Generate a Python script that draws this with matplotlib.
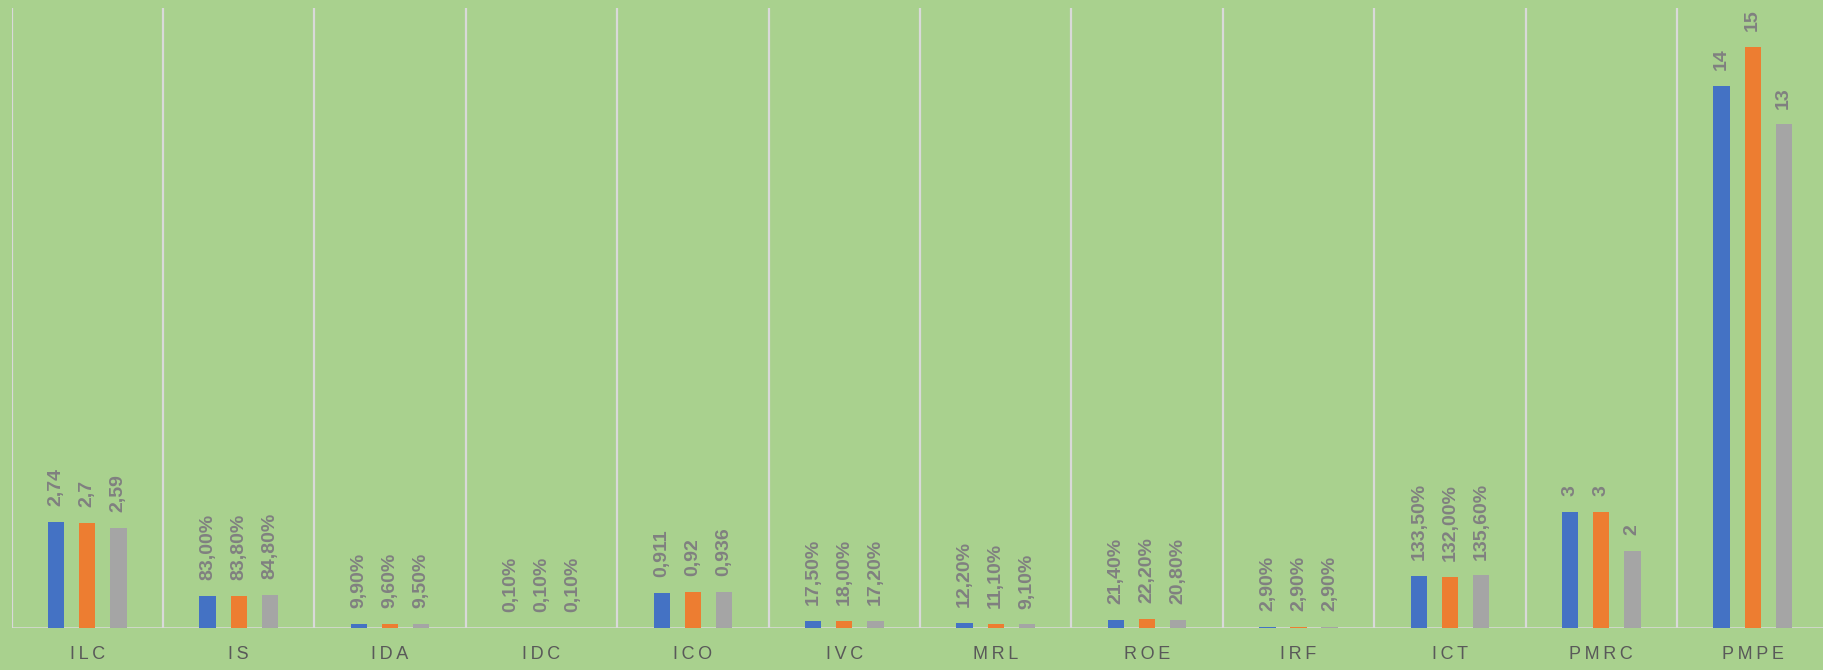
import matplotlib
matplotlib.use("Agg")
import matplotlib.pyplot as plt
import numpy as np

categories = ["ILC", "IS", "IDA", "IDC", "ICO", "IVC", "MRL", "ROE", "IRF", "ICT", "PMRC", "PMPE"]
# "pct" values are shown as percentages, "num" as plain numbers
formats = ["num", "pct", "pct", "pct", "num", "pct", "pct", "pct", "pct", "pct", "num", "num"]
serie_1 = [2.74, 0.830, 0.099, 0.001, 0.911, 0.175, 0.122, 0.214, 0.029, 1.335, 3, 14]
serie_2 = [2.70, 0.838, 0.096, 0.001, 0.920, 0.180, 0.111, 0.222, 0.029, 1.320, 3, 15]
serie_3 = [2.59, 0.848, 0.095, 0.001, 0.936, 0.172, 0.091, 0.208, 0.029, 1.356, 2, 13]

colors = ["#4472C4", "#ED7D31", "#A5A5A5"]
bg = "#A9D18E"
grid_c = "#D9D9D9"


def fmt(v, kind):
    if kind == "pct":
        return f"{v * 100:.2f}%".replace(".", ",")
    return f"{v:g}".replace(".", ",")


fig = plt.figure(figsize=(18.24, 6.70), dpi=100)
fig.patch.set_facecolor(bg)
ax = fig.add_axes([11.6 / 1824, 1 - 628 / 670, 1816.8 / 1824, 619.7 / 670])
ax.set_facecolor(bg)

x = np.arange(len(categories))
width = 0.108
step = 0.205
for i, (vals, c) in enumerate(zip([serie_1, serie_2, serie_3], colors)):
    pos = x + (i - 1) * step
    ax.bar(pos, vals, width=width, color=c, zorder=3)
    for px, v, k in zip(pos, vals, formats):
        ax.annotate(fmt(v, k), (px, v), xytext=(0, 11.5), textcoords="offset points",
                    rotation=90, ha="center", va="bottom", fontsize=14,
                    fontweight="bold", color="#808080", family="Liberation Sans", zorder=4)

for k in range(len(categories) + 1):
    ax.axvline(k - 0.5, color=grid_c, linewidth=1.6, zorder=1)
ax.axhline(0, color=grid_c, linewidth=1.8, zorder=2)

ax.set_xlim(-0.5, len(categories) - 0.5)
ax.set_ylim(0, 16)
ax.set_yticks([])
ax.set_xticks(x)
# letter-spaced category names
ax.set_xticklabels(["\u2009".join(c) for c in categories], fontsize=13,
                   color="#595959", family=["Liberation Sans", "DejaVu Sans"])
ax.tick_params(axis="x", length=0, pad=13)
for s in ax.spines.values():
    s.set_visible(False)

fig.savefig("out.png", dpi=100, facecolor=fig.get_facecolor())
